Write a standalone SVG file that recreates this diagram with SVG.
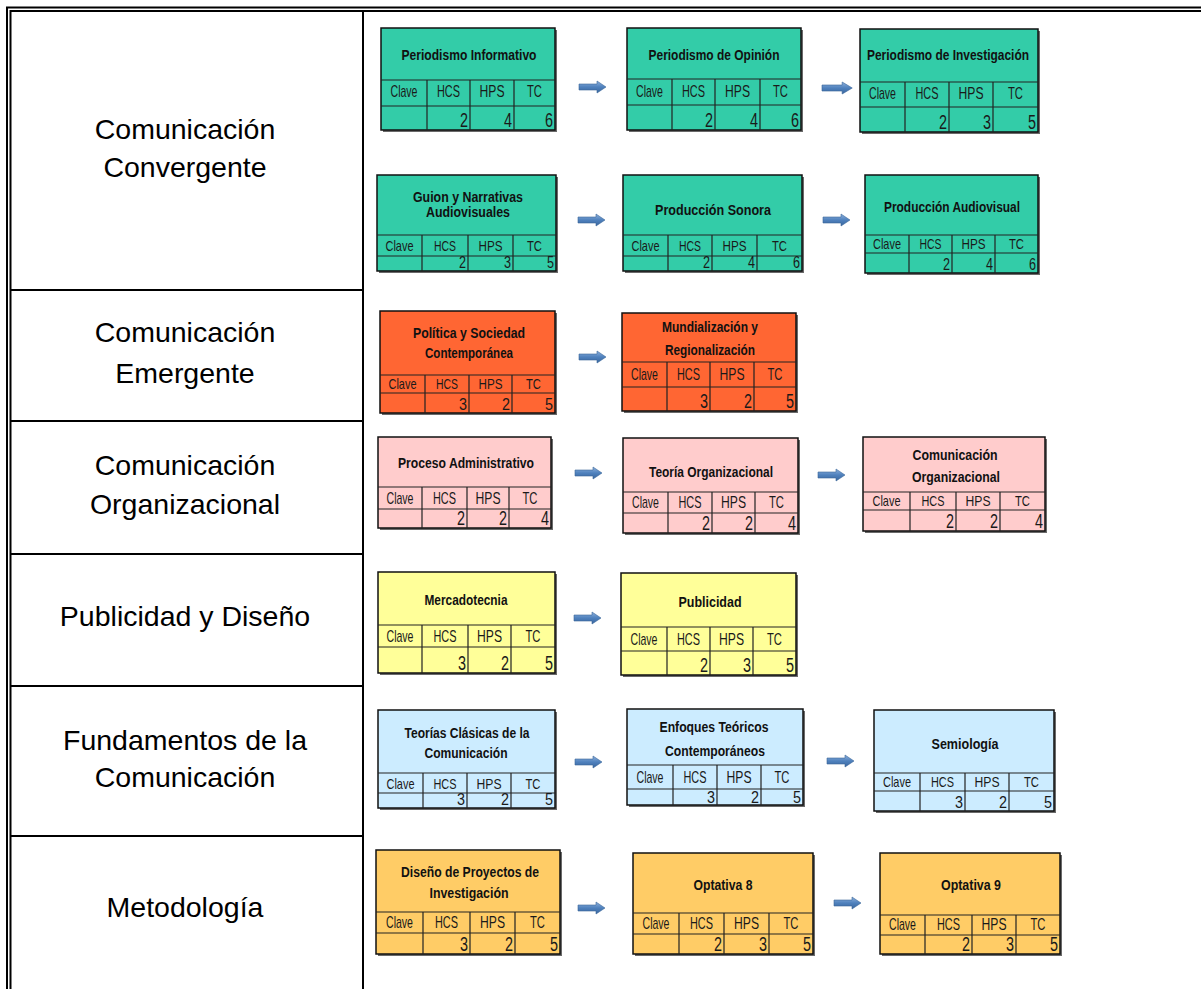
<svg xmlns="http://www.w3.org/2000/svg" xmlns:xlink="http://www.w3.org/1999/xlink" width="1201" height="989" viewBox="0 0 1201 989">
<style>
.frame{fill:none;stroke:#000;stroke-width:2}
.lbl{font-family:"Liberation Sans",Arial,sans-serif;font-size:28.5px;fill:#000;text-anchor:middle}
.sh{fill:#6a6a6a}
.bx{stroke:#111;stroke-width:1.5}
.ln{stroke:#222;stroke-width:1.2;fill:none}
.t{font-family:"Liberation Sans Narrow","Liberation Sans",Arial,sans-serif;font-weight:bold;font-size:15px;fill:#111;text-anchor:middle}
.t2{font-family:"Liberation Sans Narrow","Liberation Sans",Arial,sans-serif;font-weight:bold;font-size:14px;fill:#111;text-anchor:middle}
.c{font-family:"Liberation Sans Narrow","Liberation Sans",Arial,sans-serif;font-size:17px;fill:#1a1a1a;text-anchor:middle}
.cs{font-family:"Liberation Sans Narrow","Liberation Sans",Arial,sans-serif;font-size:15px;fill:#1a1a1a;text-anchor:middle}
.v{font-family:"Liberation Sans Narrow","Liberation Sans",Arial,sans-serif;font-size:20px;fill:#1a1a1a;text-anchor:end}
.vs{font-family:"Liberation Sans Narrow","Liberation Sans",Arial,sans-serif;font-size:16px;fill:#1a1a1a;text-anchor:end}
.teal{fill:#33CCA8}.orng{fill:#FF6633}.pink{fill:#FFCCCC}.yell{fill:#FFFF99}.blue{fill:#CCECFF}.gold{fill:#FFCC66}
</style>
<defs>
<linearGradient id="ag" x1="0" y1="0" x2="0" y2="1">
<stop offset="0" stop-color="#8DB0DC"/><stop offset="0.5" stop-color="#4F81BD"/><stop offset="1" stop-color="#39669E"/>
</linearGradient>
<path id="arr" d="M0,-3 H18 V-6 L27,0 L18,6 V3 H0 Z" fill="url(#ag)" stroke="#3B6699" stroke-width="0.6"/>
</defs>
<rect width="1201" height="989" fill="#fff"/>

<g id="table">
<path class="frame" d="M7,989 V7.5 H1201"/>
<path class="frame" d="M10.5,989 V11 H1201"/>
<path class="frame" d="M363,11 V989"/>
<path class="frame" d="M10.5,290 H363 M10.5,421 H363 M10.5,554 H363 M10.5,686 H363 M10.5,836 H363"/>
</g>

<g id="labels">
<text class="lbl" x="185" y="139">Comunicación</text>
<text class="lbl" x="185" y="177">Convergente</text>
<text class="lbl" x="185" y="342">Comunicación</text>
<text class="lbl" x="185" y="383">Emergente</text>
<text class="lbl" x="185" y="475">Comunicación</text>
<text class="lbl" x="185" y="514">Organizacional</text>
<text class="lbl" x="185" y="626">Publicidad y Diseño</text>
<text class="lbl" x="185" y="750">Fundamentos de la</text>
<text class="lbl" x="185" y="787">Comunicación</text>
<text class="lbl" x="185" y="917">Metodología</text>
</g>

<g id="connectors">
<use xlink:href="#arr" transform="translate(579,87)"/>
<use xlink:href="#arr" transform="translate(822,88) scale(1.12,1)"/>
<use xlink:href="#arr" transform="translate(578,220)"/>
<use xlink:href="#arr" transform="translate(823,220)"/>
<use xlink:href="#arr" transform="translate(579,357)"/>
<use xlink:href="#arr" transform="translate(575,473)"/>
<use xlink:href="#arr" transform="translate(818,475)"/>
<use xlink:href="#arr" transform="translate(574,618)"/>
<use xlink:href="#arr" transform="translate(575,762)"/>
<use xlink:href="#arr" transform="translate(827,761)"/>
<use xlink:href="#arr" transform="translate(578,908)"/>
<use xlink:href="#arr" transform="translate(834,903)"/>
</g>

<!-- Row 1 -->
<g id="periodismo-informativo">
<rect class="sh" x="383" y="30" width="174" height="102"/>
<rect class="bx teal" x="381" y="28" width="174" height="102"/>
<path class="ln" d="M381,80 H555 M381,106 H555 M427,80 V130 M470,80 V130 M514,80 V130"/>
<text class="t" x="469" y="60" textLength="135" lengthAdjust="spacingAndGlyphs">Periodismo Informativo</text>
<text class="c" x="404" y="97" textLength="27" lengthAdjust="spacingAndGlyphs">Clave</text>
<text class="c" x="448.5" y="97" textLength="23" lengthAdjust="spacingAndGlyphs">HCS</text>
<text class="c" x="492" y="97" textLength="25" lengthAdjust="spacingAndGlyphs">HPS</text>
<text class="c" x="534.5" y="97" textLength="15" lengthAdjust="spacingAndGlyphs">TC</text>
<text class="v" x="468" y="127" textLength="8" lengthAdjust="spacingAndGlyphs">2</text><text class="v" x="512" y="127" textLength="8" lengthAdjust="spacingAndGlyphs">4</text><text class="v" x="553" y="127" textLength="8" lengthAdjust="spacingAndGlyphs">6</text>
</g>

<g id="periodismo-opinion">
<rect class="sh" x="629" y="30" width="174" height="102"/>
<rect class="bx teal" x="627" y="28" width="174" height="102"/>
<path class="ln" d="M627,79 H801 M627,105 H801 M672,79 V130 M715,79 V130 M760,79 V130"/>
<text class="t" x="714" y="60" textLength="131" lengthAdjust="spacingAndGlyphs">Periodismo de Opinión</text>
<text class="c" x="649.5" y="97" textLength="27" lengthAdjust="spacingAndGlyphs">Clave</text>
<text class="c" x="693.5" y="97" textLength="23" lengthAdjust="spacingAndGlyphs">HCS</text>
<text class="c" x="737.5" y="97" textLength="25" lengthAdjust="spacingAndGlyphs">HPS</text>
<text class="c" x="780.5" y="97" textLength="15" lengthAdjust="spacingAndGlyphs">TC</text>
<text class="v" x="713" y="127" textLength="8" lengthAdjust="spacingAndGlyphs">2</text><text class="v" x="758" y="127" textLength="8" lengthAdjust="spacingAndGlyphs">4</text><text class="v" x="799" y="127" textLength="8" lengthAdjust="spacingAndGlyphs">6</text>
</g>

<g id="periodismo-investigacion">
<rect class="sh" x="862" y="31" width="178" height="103"/>
<rect class="bx teal" x="860" y="29" width="178" height="103"/>
<path class="ln" d="M860,82 H1038 M860,107 H1038 M905,82 V132 M949,82 V132 M993,82 V132"/>
<text class="t" x="948" y="60" textLength="162" lengthAdjust="spacingAndGlyphs">Periodismo de Investigación</text>
<text class="c" x="882.5" y="99" textLength="27" lengthAdjust="spacingAndGlyphs">Clave</text>
<text class="c" x="927" y="99" textLength="23" lengthAdjust="spacingAndGlyphs">HCS</text>
<text class="c" x="971" y="99" textLength="25" lengthAdjust="spacingAndGlyphs">HPS</text>
<text class="c" x="1015.5" y="99" textLength="15" lengthAdjust="spacingAndGlyphs">TC</text>
<text class="v" x="947" y="129" textLength="8" lengthAdjust="spacingAndGlyphs">2</text><text class="v" x="991" y="129" textLength="8" lengthAdjust="spacingAndGlyphs">3</text><text class="v" x="1036" y="129" textLength="8" lengthAdjust="spacingAndGlyphs">5</text>
</g>

<g id="guion-narrativas">
<rect class="sh" x="379" y="177" width="179" height="96"/>
<rect class="bx teal" x="377" y="175" width="179" height="96"/>
<path class="ln" d="M377,235 H556 M377,256 H556 M422,235 V271 M468,235 V271 M513,235 V271"/>
<text class="t2" x="468" y="202" font-size="13" textLength="110" lengthAdjust="spacingAndGlyphs">Guion y Narrativas</text>
<text class="t2" x="468" y="217" font-size="13" textLength="84" lengthAdjust="spacingAndGlyphs">Audiovisuales</text>
<text class="cs" x="399.5" y="251" textLength="28" lengthAdjust="spacingAndGlyphs">Clave</text>
<text class="cs" x="445" y="251" textLength="22" lengthAdjust="spacingAndGlyphs">HCS</text>
<text class="cs" x="490.5" y="251" textLength="24" lengthAdjust="spacingAndGlyphs">HPS</text>
<text class="cs" x="534.5" y="251" textLength="15" lengthAdjust="spacingAndGlyphs">TC</text>
<text class="vs" x="466" y="268" textLength="7" lengthAdjust="spacingAndGlyphs">2</text><text class="vs" x="511" y="268" textLength="7" lengthAdjust="spacingAndGlyphs">3</text><text class="vs" x="554" y="268" textLength="7" lengthAdjust="spacingAndGlyphs">5</text>
</g>

<g id="produccion-sonora">
<rect class="sh" x="625" y="177" width="179" height="96"/>
<rect class="bx teal" x="623" y="175" width="179" height="96"/>
<path class="ln" d="M623,235 H802 M623,256 H802 M668,235 V271 M712,235 V271 M757,235 V271"/>
<text class="t2" x="713" y="215" textLength="116" lengthAdjust="spacingAndGlyphs">Producción Sonora</text>
<text class="cs" x="645.5" y="251" textLength="28" lengthAdjust="spacingAndGlyphs">Clave</text>
<text class="cs" x="690" y="251" textLength="22" lengthAdjust="spacingAndGlyphs">HCS</text>
<text class="cs" x="734.5" y="251" textLength="24" lengthAdjust="spacingAndGlyphs">HPS</text>
<text class="cs" x="779.5" y="251" textLength="15" lengthAdjust="spacingAndGlyphs">TC</text>
<text class="vs" x="710" y="268" textLength="7" lengthAdjust="spacingAndGlyphs">2</text><text class="vs" x="755" y="268" textLength="7" lengthAdjust="spacingAndGlyphs">4</text><text class="vs" x="800" y="268" textLength="7" lengthAdjust="spacingAndGlyphs">6</text>
</g>

<g id="produccion-audiovisual">
<rect class="sh" x="867" y="177" width="173" height="98"/>
<rect class="bx teal" x="865" y="175" width="173" height="98"/>
<path class="ln" d="M865,235 H1038 M865,253 H1038 M909,235 V273 M952,235 V273 M995,235 V273"/>
<text class="t2" x="952" y="212" textLength="136" lengthAdjust="spacingAndGlyphs">Producción Audiovisual</text>
<text class="cs" x="887" y="249" textLength="28" lengthAdjust="spacingAndGlyphs">Clave</text>
<text class="cs" x="930.5" y="249" textLength="22" lengthAdjust="spacingAndGlyphs">HCS</text>
<text class="cs" x="973.5" y="249" textLength="24" lengthAdjust="spacingAndGlyphs">HPS</text>
<text class="cs" x="1016.5" y="249" textLength="15" lengthAdjust="spacingAndGlyphs">TC</text>
<text class="vs" x="950" y="270" textLength="7" lengthAdjust="spacingAndGlyphs">2</text><text class="vs" x="993" y="270" textLength="7" lengthAdjust="spacingAndGlyphs">4</text><text class="vs" x="1036" y="270" textLength="7" lengthAdjust="spacingAndGlyphs">6</text>
</g>

<!-- Row 2 -->
<g id="politica-sociedad">
<rect class="sh" x="382" y="313" width="175" height="102"/>
<rect class="bx orng" x="380" y="311" width="175" height="102"/>
<path class="ln" d="M380,375 H555 M380,393 H555 M425,375 V413 M469,375 V413 M512,375 V413"/>
<text class="t2" x="469" y="338" textLength="112" lengthAdjust="spacingAndGlyphs">Política y Sociedad</text>
<text class="t2" x="469" y="358" textLength="88" lengthAdjust="spacingAndGlyphs">Contemporánea</text>
<text class="cs" x="402.5" y="389" textLength="28" lengthAdjust="spacingAndGlyphs">Clave</text>
<text class="cs" x="447" y="389" textLength="22" lengthAdjust="spacingAndGlyphs">HCS</text>
<text class="cs" x="490.5" y="389" textLength="24" lengthAdjust="spacingAndGlyphs">HPS</text>
<text class="cs" x="533.5" y="389" textLength="15" lengthAdjust="spacingAndGlyphs">TC</text>
<text class="vs" x="467" y="410" textLength="8" lengthAdjust="spacingAndGlyphs">3</text><text class="vs" x="510" y="410" textLength="8" lengthAdjust="spacingAndGlyphs">2</text><text class="vs" x="553" y="410" textLength="8" lengthAdjust="spacingAndGlyphs">5</text>
</g>

<g id="mundializacion">
<rect class="sh" x="624" y="315" width="174" height="98"/>
<rect class="bx orng" x="622" y="313" width="174" height="98"/>
<path class="ln" d="M622,362 H796 M622,387 H796 M667,362 V411 M710,362 V411 M754,362 V411"/>
<text class="t" x="710" y="332" textLength="96" lengthAdjust="spacingAndGlyphs">Mundialización y</text>
<text class="t" x="710" y="355" textLength="90" lengthAdjust="spacingAndGlyphs">Regionalización</text>
<text class="c" x="644.5" y="380" textLength="27" lengthAdjust="spacingAndGlyphs">Clave</text>
<text class="c" x="688.5" y="380" textLength="23" lengthAdjust="spacingAndGlyphs">HCS</text>
<text class="c" x="732" y="380" textLength="25" lengthAdjust="spacingAndGlyphs">HPS</text>
<text class="c" x="775" y="380" textLength="15" lengthAdjust="spacingAndGlyphs">TC</text>
<text class="v" x="708" y="408" textLength="8" lengthAdjust="spacingAndGlyphs">3</text><text class="v" x="752" y="408" textLength="8" lengthAdjust="spacingAndGlyphs">2</text><text class="v" x="794" y="408" textLength="8" lengthAdjust="spacingAndGlyphs">5</text>
</g>

<!-- Row 3 -->
<g id="proceso-administrativo">
<rect class="sh" x="380" y="439" width="173" height="91"/>
<rect class="bx pink" x="378" y="437" width="173" height="91"/>
<path class="ln" d="M378,487 H551 M378,509 H551 M422,487 V528 M467,487 V528 M509,487 V528"/>
<text class="t" x="466" y="468" textLength="136" lengthAdjust="spacingAndGlyphs">Proceso Administrativo</text>
<text class="c" x="400" y="504" textLength="27" lengthAdjust="spacingAndGlyphs">Clave</text>
<text class="c" x="444.5" y="504" textLength="23" lengthAdjust="spacingAndGlyphs">HCS</text>
<text class="c" x="488" y="504" textLength="25" lengthAdjust="spacingAndGlyphs">HPS</text>
<text class="c" x="530" y="504" textLength="15" lengthAdjust="spacingAndGlyphs">TC</text>
<text class="v" x="465" y="525" textLength="8" lengthAdjust="spacingAndGlyphs">2</text><text class="v" x="507" y="525" textLength="8" lengthAdjust="spacingAndGlyphs">2</text><text class="v" x="549" y="525" textLength="8" lengthAdjust="spacingAndGlyphs">4</text>
</g>

<g id="teoria-organizacional">
<rect class="sh" x="625" y="440" width="175" height="95"/>
<rect class="bx pink" x="623" y="438" width="175" height="95"/>
<path class="ln" d="M623,492 H798 M623,513 H798 M668,492 V533 M712,492 V533 M755,492 V533"/>
<text class="t" x="711" y="477" textLength="124" lengthAdjust="spacingAndGlyphs">Teoría Organizacional</text>
<text class="c" x="645.5" y="508" textLength="27" lengthAdjust="spacingAndGlyphs">Clave</text>
<text class="c" x="690" y="508" textLength="23" lengthAdjust="spacingAndGlyphs">HCS</text>
<text class="c" x="733.5" y="508" textLength="25" lengthAdjust="spacingAndGlyphs">HPS</text>
<text class="c" x="776.5" y="508" textLength="15" lengthAdjust="spacingAndGlyphs">TC</text>
<text class="v" x="710" y="530" textLength="8" lengthAdjust="spacingAndGlyphs">2</text><text class="v" x="753" y="530" textLength="8" lengthAdjust="spacingAndGlyphs">2</text><text class="v" x="796" y="530" textLength="8" lengthAdjust="spacingAndGlyphs">4</text>
</g>

<g id="comunicacion-organizacional">
<rect class="sh" x="865" y="439" width="182" height="94"/>
<rect class="bx pink" x="863" y="437" width="182" height="94"/>
<path class="ln" d="M863,492 H1045 M863,510 H1045 M910,492 V531 M956,492 V531 M1000,492 V531"/>
<text class="t" x="955" y="460" textLength="85" lengthAdjust="spacingAndGlyphs">Comunicación</text>
<text class="t" x="956" y="482" textLength="88" lengthAdjust="spacingAndGlyphs">Organizacional</text>
<text class="cs" x="886.5" y="506" textLength="28" lengthAdjust="spacingAndGlyphs">Clave</text>
<text class="cs" x="933" y="506" textLength="23" lengthAdjust="spacingAndGlyphs">HCS</text>
<text class="cs" x="978" y="506" textLength="25" lengthAdjust="spacingAndGlyphs">HPS</text>
<text class="cs" x="1022.5" y="506" textLength="15" lengthAdjust="spacingAndGlyphs">TC</text>
<text class="v" x="954" y="528" textLength="8" lengthAdjust="spacingAndGlyphs">2</text><text class="v" x="998" y="528" textLength="8" lengthAdjust="spacingAndGlyphs">2</text><text class="v" x="1043" y="528" textLength="8" lengthAdjust="spacingAndGlyphs">4</text>
</g>

<!-- Row 4 -->
<g id="mercadotecnia">
<rect class="sh" x="380" y="574" width="177" height="101"/>
<rect class="bx yell" x="378" y="572" width="177" height="101"/>
<path class="ln" d="M378,625 H555 M378,647 H555 M422,625 V673 M468,625 V673 M511,625 V673"/>
<text class="t" x="466" y="605" textLength="83" lengthAdjust="spacingAndGlyphs">Mercadotecnia</text>
<text class="c" x="400" y="642" textLength="27" lengthAdjust="spacingAndGlyphs">Clave</text>
<text class="c" x="445" y="642" textLength="23" lengthAdjust="spacingAndGlyphs">HCS</text>
<text class="c" x="489.5" y="642" textLength="25" lengthAdjust="spacingAndGlyphs">HPS</text>
<text class="c" x="533" y="642" textLength="15" lengthAdjust="spacingAndGlyphs">TC</text>
<text class="v" x="466" y="670" textLength="8" lengthAdjust="spacingAndGlyphs">3</text><text class="v" x="509" y="670" textLength="8" lengthAdjust="spacingAndGlyphs">2</text><text class="v" x="553" y="670" textLength="8" lengthAdjust="spacingAndGlyphs">5</text>
</g>

<g id="publicidad">
<rect class="sh" x="623" y="575" width="175" height="102"/>
<rect class="bx yell" x="621" y="573" width="175" height="102"/>
<path class="ln" d="M621,627 H796 M621,651 H796 M667,627 V675 M710,627 V675 M753,627 V675"/>
<text class="t" x="710" y="607" textLength="63" lengthAdjust="spacingAndGlyphs">Publicidad</text>
<text class="c" x="644" y="645" textLength="27" lengthAdjust="spacingAndGlyphs">Clave</text>
<text class="c" x="688.5" y="645" textLength="23" lengthAdjust="spacingAndGlyphs">HCS</text>
<text class="c" x="731.5" y="645" textLength="25" lengthAdjust="spacingAndGlyphs">HPS</text>
<text class="c" x="774.5" y="645" textLength="15" lengthAdjust="spacingAndGlyphs">TC</text>
<text class="v" x="708" y="672" textLength="8" lengthAdjust="spacingAndGlyphs">2</text><text class="v" x="751" y="672" textLength="8" lengthAdjust="spacingAndGlyphs">3</text><text class="v" x="794" y="672" textLength="8" lengthAdjust="spacingAndGlyphs">5</text>
</g>

<!-- Row 5 -->
<g id="teorias-clasicas">
<rect class="sh" x="380" y="712" width="177" height="98"/>
<rect class="bx blue" x="378" y="710" width="177" height="98"/>
<path class="ln" d="M378,773 H555 M378,793 H555 M423,773 V808 M467,773 V808 M511,773 V808"/>
<text class="t2" x="467" y="738" textLength="125" lengthAdjust="spacingAndGlyphs">Teorías Clásicas de la</text>
<text class="t2" x="466" y="758" textLength="83" lengthAdjust="spacingAndGlyphs">Comunicación</text>
<text class="cs" x="400.5" y="789" textLength="28" lengthAdjust="spacingAndGlyphs">Clave</text>
<text class="cs" x="445" y="789" textLength="23" lengthAdjust="spacingAndGlyphs">HCS</text>
<text class="cs" x="489" y="789" textLength="25" lengthAdjust="spacingAndGlyphs">HPS</text>
<text class="cs" x="533" y="789" textLength="15" lengthAdjust="spacingAndGlyphs">TC</text>
<text class="vs" x="465" y="805" textLength="8" lengthAdjust="spacingAndGlyphs">3</text><text class="vs" x="509" y="805" textLength="8" lengthAdjust="spacingAndGlyphs">2</text><text class="vs" x="553" y="805" textLength="8" lengthAdjust="spacingAndGlyphs">5</text>
</g>

<g id="enfoques-teoricos">
<rect class="sh" x="629" y="711" width="176" height="96"/>
<rect class="bx blue" x="627" y="709" width="176" height="96"/>
<path class="ln" d="M627,765 H803 M627,789 H803 M673,765 V805 M717,765 V805 M761,765 V805"/>
<text class="t" x="714" y="732" textLength="109" lengthAdjust="spacingAndGlyphs">Enfoques Teóricos</text>
<text class="t" x="715" y="756" textLength="100" lengthAdjust="spacingAndGlyphs">Contemporáneos</text>
<text class="c" x="650" y="783" textLength="27" lengthAdjust="spacingAndGlyphs">Clave</text>
<text class="c" x="695" y="783" textLength="23" lengthAdjust="spacingAndGlyphs">HCS</text>
<text class="c" x="739" y="783" textLength="25" lengthAdjust="spacingAndGlyphs">HPS</text>
<text class="c" x="782" y="783" textLength="15" lengthAdjust="spacingAndGlyphs">TC</text>
<text class="vs" x="715" y="803" textLength="8" lengthAdjust="spacingAndGlyphs">3</text><text class="vs" x="759" y="803" textLength="8" lengthAdjust="spacingAndGlyphs">2</text><text class="vs" x="801" y="803" textLength="8" lengthAdjust="spacingAndGlyphs">5</text>
</g>

<g id="semiologia">
<rect class="sh" x="876" y="712" width="180" height="101"/>
<rect class="bx blue" x="874" y="710" width="180" height="101"/>
<path class="ln" d="M874,773 H1054 M874,791 H1054 M920,773 V811 M965,773 V811 M1009,773 V811"/>
<text class="t" x="965" y="749" textLength="67" lengthAdjust="spacingAndGlyphs">Semiología</text>
<text class="cs" x="897" y="787" textLength="28" lengthAdjust="spacingAndGlyphs">Clave</text>
<text class="cs" x="942.5" y="787" textLength="23" lengthAdjust="spacingAndGlyphs">HCS</text>
<text class="cs" x="987" y="787" textLength="25" lengthAdjust="spacingAndGlyphs">HPS</text>
<text class="cs" x="1031.5" y="787" textLength="15" lengthAdjust="spacingAndGlyphs">TC</text>
<text class="vs" x="963" y="808" textLength="8" lengthAdjust="spacingAndGlyphs">3</text><text class="vs" x="1007" y="808" textLength="8" lengthAdjust="spacingAndGlyphs">2</text><text class="vs" x="1052" y="808" textLength="8" lengthAdjust="spacingAndGlyphs">5</text>
</g>

<!-- Row 6 -->
<g id="diseno-proyectos">
<rect class="sh" x="378" y="852" width="184" height="104"/>
<rect class="bx gold" x="376" y="850" width="184" height="104"/>
<path class="ln" d="M376,912 H560 M376,933 H560 M423,912 V954 M470,912 V954 M515,912 V954"/>
<text class="t2" x="470" y="877" textLength="138" lengthAdjust="spacingAndGlyphs">Diseño de Proyectos de</text>
<text class="t2" x="469" y="898" textLength="79" lengthAdjust="spacingAndGlyphs">Investigación</text>
<text class="c" x="399.5" y="928" textLength="27" lengthAdjust="spacingAndGlyphs">Clave</text>
<text class="c" x="446.5" y="928" textLength="23" lengthAdjust="spacingAndGlyphs">HCS</text>
<text class="c" x="492.5" y="928" textLength="25" lengthAdjust="spacingAndGlyphs">HPS</text>
<text class="c" x="537.5" y="928" textLength="15" lengthAdjust="spacingAndGlyphs">TC</text>
<text class="v" x="468" y="951" textLength="8" lengthAdjust="spacingAndGlyphs">3</text><text class="v" x="513" y="951" textLength="8" lengthAdjust="spacingAndGlyphs">2</text><text class="v" x="558" y="951" textLength="8" lengthAdjust="spacingAndGlyphs">5</text>
</g>

<g id="optativa-8">
<rect class="sh" x="635" y="855" width="180" height="101"/>
<rect class="bx gold" x="633" y="853" width="180" height="101"/>
<path class="ln" d="M633,913 H813 M633,934 H813 M679,913 V954 M724,913 V954 M769,913 V954"/>
<text class="t" x="723" y="890" textLength="59" lengthAdjust="spacingAndGlyphs">Optativa 8</text>
<text class="c" x="656" y="929" textLength="27" lengthAdjust="spacingAndGlyphs">Clave</text>
<text class="c" x="701.5" y="929" textLength="23" lengthAdjust="spacingAndGlyphs">HCS</text>
<text class="c" x="746.5" y="929" textLength="25" lengthAdjust="spacingAndGlyphs">HPS</text>
<text class="c" x="791" y="929" textLength="15" lengthAdjust="spacingAndGlyphs">TC</text>
<text class="v" x="722" y="951" textLength="8" lengthAdjust="spacingAndGlyphs">2</text><text class="v" x="767" y="951" textLength="8" lengthAdjust="spacingAndGlyphs">3</text><text class="v" x="811" y="951" textLength="8" lengthAdjust="spacingAndGlyphs">5</text>
</g>

<g id="optativa-9">
<rect class="sh" x="882" y="855" width="180" height="101"/>
<rect class="bx gold" x="880" y="853" width="180" height="101"/>
<path class="ln" d="M880,915 H1060 M880,935 H1060 M925,915 V954 M972,915 V954 M1016,915 V954"/>
<text class="t" x="971" y="890" textLength="60" lengthAdjust="spacingAndGlyphs">Optativa 9</text>
<text class="c" x="902.5" y="930" textLength="27" lengthAdjust="spacingAndGlyphs">Clave</text>
<text class="c" x="948.5" y="930" textLength="23" lengthAdjust="spacingAndGlyphs">HCS</text>
<text class="c" x="994" y="930" textLength="25" lengthAdjust="spacingAndGlyphs">HPS</text>
<text class="c" x="1038" y="930" textLength="15" lengthAdjust="spacingAndGlyphs">TC</text>
<text class="v" x="970" y="951" textLength="8" lengthAdjust="spacingAndGlyphs">2</text><text class="v" x="1014" y="951" textLength="8" lengthAdjust="spacingAndGlyphs">3</text><text class="v" x="1058" y="951" textLength="8" lengthAdjust="spacingAndGlyphs">5</text>
</g>
</svg>
